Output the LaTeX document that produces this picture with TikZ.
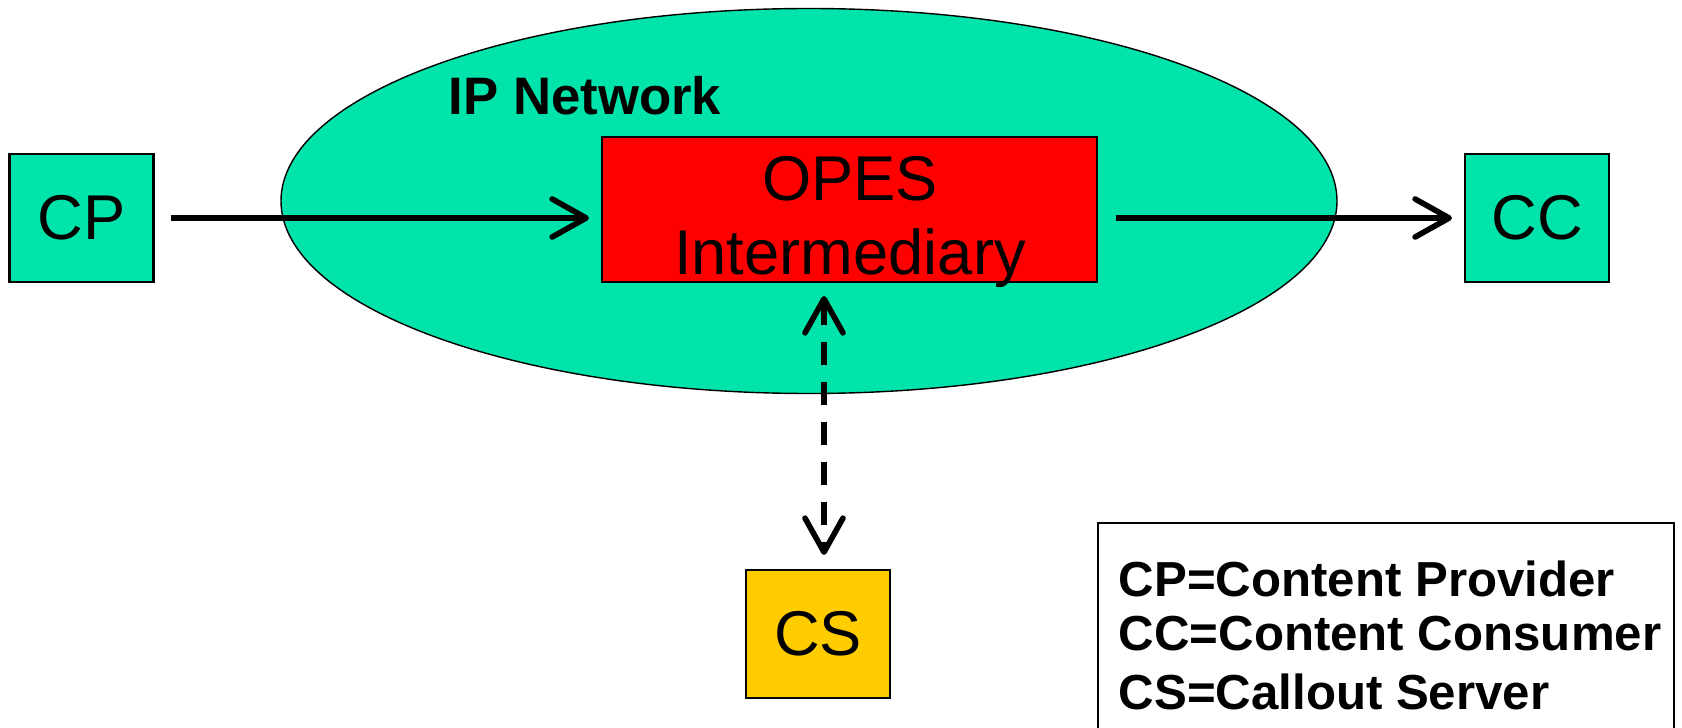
\documentclass[tikz,border=0pt]{standalone}
\usepackage{fontspec}
\setmainfont{Liberation Sans}
\usetikzlibrary{arrows.meta}
\definecolor{netgreen}{RGB}{0,227,170}
\definecolor{opesred}{RGB}{255,0,0}
\definecolor{csyellow}{RGB}{255,204,0}

\begin{document}
\begin{tikzpicture}[
		>={Straight Barb[length=3.4mm, width=3.8mm, line cap=round, line join=round]},
		unit/.style={draw, line width=0.6pt, minimum width=1.44cm, minimum height=1.28cm, inner sep=0pt, font=\fontsize{18}{21}\selectfont},
		flow/.style={line width=1.6pt, ->},
		keytext/.style={font=\bfseries\fontsize{14}{16}\selectfont, inner sep=0pt, anchor=base west}
	]
		\useasboundingbox (0,0) rectangle (16.82,7.27);
		% network cloud
		\draw[fill=netgreen, line width=0.4pt](8.09, 5.26) ellipse (5.28 and 1.925);
		\node[font=\bfseries\fontsize{15}{18}\selectfont, inner sep=0pt, anchor=base west] (net) at (4.48,6.12) {IP Network};
		% boxes
		\node[unit, fill=netgreen] (cp) at (0.815,5.09) {CP};
		\node[unit, fill=netgreen] (cc) at (15.37,5.09) {CC};
		\node[unit, fill=csyellow] (cs) at (8.18,0.93) {CS};
		\node[draw, fill=opesred, line width=0.6pt, minimum width=4.95cm, minimum height=1.45cm] (opes) at (8.495,5.175) {};
		\node[font=\fontsize{18}{21}\selectfont, align=center, inner sep=0pt] (opestext) at (8.50,5.05) {OPES\\Intermediary};
		% connectors
		\draw[flow, shorten <=0.16cm, shorten >=0.12cm] (cp.east) -- (cp.east -| opes.west);
		\draw[flow, shorten <=0.18cm, shorten >=0.12cm] (opes.east |- cc.west) -- (cc.west);
		\draw[flow, <->, dash pattern=on 0.23cm off 0.17cm, shorten <=0.13cm, shorten >=0.14cm] ([xshift=0.6mm]opes.south -| cs.north) -- ([xshift=0.6mm]cs.north);
		% key
		\node[draw, line width=0.6pt, minimum width=5.76cm, minimum height=2.6cm, anchor=north west] (legend) at (10.97,2.05) {};
		\node[keytext] (keycp) at (11.18,1.31) {CP=Content Provider};
		\node[keytext] (keycc) at (11.18,0.77) {CC=Content Consumer};
		\node[keytext] (keycs) at (11.18,0.18) {CS=Callout Server};
	\end{tikzpicture}
\end{document}
